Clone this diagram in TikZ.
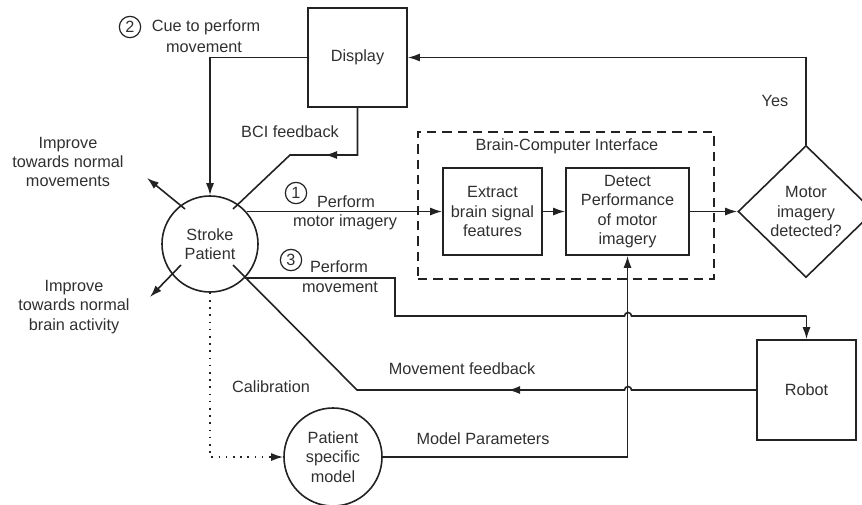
\documentclass[tikz,border=0pt]{standalone}
\usepackage{fontspec}
\setmainfont{Liberation Sans}
\usetikzlibrary{arrows.meta,shapes.geometric}
\definecolor{ink}{HTML}{222222}
\definecolor{txt}{HTML}{303030}
\begin{document}
\begin{tikzpicture}[x=0.75pt,y=-0.75pt,
  every node/.style={font=\fontsize{12.2}{14.6}\selectfont, text=txt, align=center},
  line/.style={draw=ink, line width=1.2pt},
  arr/.style={line, -{Latex[length=9pt,width=6pt]}},
  tip/.style={draw=ink, line width=1.2pt, -{Latex[length=9pt,width=6pt]}},
  boxnode/.style={draw=ink, line width=1.2pt, rectangle, inner sep=0pt},
  circnode/.style={draw=ink, line width=1.2pt, circle, inner sep=0pt},
  numc/.style={draw=ink, line width=0.9pt, circle, inner sep=0pt, minimum size=16pt},
  lbl/.style={inner sep=0pt}
]
\useasboundingbox (0,0) rectangle (862,504);
\clip (0,0) rectangle (862,504);

% nodes
\node[boxnode, minimum width=74.25pt, minimum height=74.25pt] (display) at (357.5,57.5) {Display};
\node[circnode, minimum size=72pt] (sp) at (210,244) {Stroke\\Patient};
\node[boxnode, minimum width=74.25pt, minimum height=65.25pt] (extract) at (492.5,211.5) {Extract\\brain signal\\features};
\node[boxnode, minimum width=92.25pt, minimum height=65.25pt] (detect) at (627.5,211.5) {Detect\\Performance\\of motor\\imagery};
\node[draw=ink, line width=1.2pt, dash pattern=on 7pt off 4.5pt, rectangle, inner sep=0pt,
      minimum width=222pt, minimum height=110.25pt] (bci) at (566,205.5) {};
\node[lbl] (bcititle) at (567,146) {Brain-Computer Interface};
\node[draw=ink, line width=1.2pt, diamond, inner sep=0pt, minimum width=102pt, minimum height=99pt] (dia) at (806,211.5) {Motor\\imagery\\detected?};
\node[boxnode, minimum width=74.25pt, minimum height=75pt] (robot) at (806.5,390) {Robot};
\node[circnode, minimum size=73.5pt] (psm) at (333,457) {Patient\\specific\\model};

% labels
\node[numc] (n2) at (130,27) {2};
\node[lbl] (cue1) at (206,27) {Cue to perform};
\node[lbl] (cue2) at (204,47) {movement};
\node[lbl] (bcifb) at (290,132) {BCI feedback};
\node[lbl] (imp1) at (68,162) {Improve\\towards normal\\movements};
\node[lbl] (imp2) at (74,307) {Improve\\towards normal\\brain activity};
\node[numc] (n1) at (296,193) {1};
\node[lbl] (pm1) at (346,202) {Perform};
\node[lbl] (pm2) at (345,222) {motor imagery};
\node[numc] (n3) at (291,260) {3};
\node[lbl] (pv1) at (339,267) {Perform};
\node[lbl] (pv2) at (340,287) {movement};
\node[lbl] (yes) at (775,101) {Yes};
\node[lbl] (mfb) at (462,369) {Movement feedback};
\node[lbl] (cal) at (271,387) {Calibration};
\node[lbl] (mp) at (483,439) {Model Parameters};

% helper coordinates
\coordinate (cueturn) at (210,57.5);
\coordinate (bf1) at (357.5,155);
\coordinate (bf2) at (290,155);
\coordinate (bfend) at (233,209);
\coordinate (bftipA) at (345,155);
\coordinate (bftipB) at (325,155);
\coordinate (iu0) at (185,209);
\coordinate (iu1) at (147,178);
\coordinate (il0) at (181,265);
\coordinate (il1) at (150,297);
\coordinate (mi0) at (247,211.5);
\coordinate (pv0) at (245,278);
\coordinate (pv1c) at (395,278);
\coordinate (pv2c) at (395,316);
\coordinate (pvb) at (624.5,316);
\coordinate (pv3) at (806.5,316);
\coordinate (mfb0) at (631.5,390);
\coordinate (mfb1) at (357,390);
\coordinate (mfbend) at (233,265);
\coordinate (mftipA) at (530,390);
\coordinate (mftipB) at (508,390);
\coordinate (calturn) at (210,457);

% connectors
\draw[arr] (display.west) -- (cueturn) -- (sp.north);
\draw[line] (display.south) -- (bf1) -- (bf2) -- (bfend);
\draw[tip] (bftipA) -- (bftipB);
\draw[arr] (iu0) -- (iu1);
\draw[arr] (il0) -- (il1);
\draw[arr] (mi0) -- (extract.west);
\draw[arr] (extract.east) -- (detect.west);
\draw[arr] (detect.east) -- (dia.west);
\draw[arr] (dia.north) |- (display.east);
\draw[line] (pv0) -- (pv1c) -- (pv2c) -- (pvb) arc[start angle=180, end angle=0, radius=2.625pt] -- (pv3);
\draw[arr] (pv3) -- (robot.north);
\draw[line] (robot.west) -- (mfb0) arc[start angle=0, end angle=180, radius=2.625pt] -- (mfb1) -- (mfbend);
\draw[tip] (mftipA) -- (mftipB);
\draw[arr] (psm.east) -| (detect.south);
\draw[draw=ink, line width=1.2pt, dash pattern=on 1.2pt off 4.2pt, -{Latex[length=9pt,width=6pt]}] (sp.south) -- (calturn) -- (psm.west);
\end{tikzpicture}
\end{document}
